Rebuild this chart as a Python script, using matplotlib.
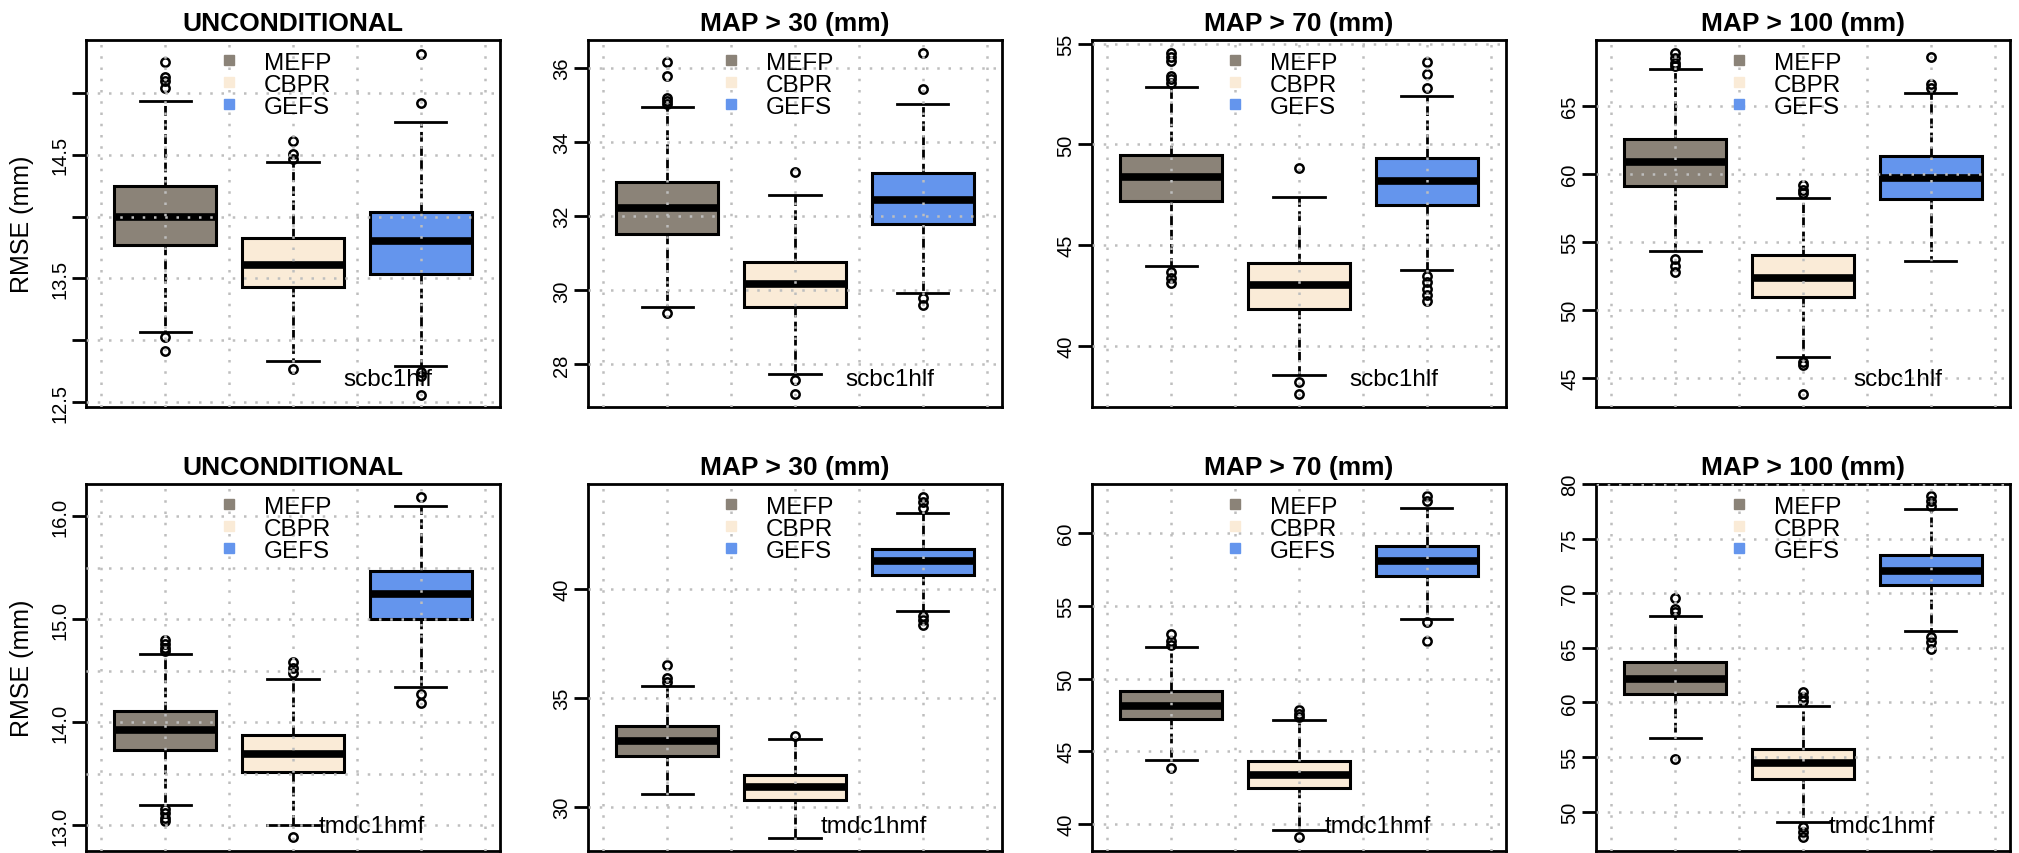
import numpy as np
import matplotlib
matplotlib.use("Agg")
import matplotlib.pyplot as plt
from matplotlib.lines import Line2D

plt.rcParams['font.family'] = ['Liberation Sans', 'DejaVu Sans']

# --- dados (RMSE em mm) ---
produtos = ['MEFP', 'CBPR', 'GEFS']
cores = ['#8B8378', '#FAEBD7', '#6495ED']
titulos = ['UNCONDITIONAL', 'MAP > 30 (mm)', 'MAP > 70 (mm)', 'MAP > 100 (mm)']
estacoes = ['scbc1hlf', 'tmdc1hmf']

# linha de cima: scbc1hlf  (cada painel: MEFP, CBPR, GEFS)
q1_scbc = [[13.77, 13.43, 13.54], [31.51, 29.56, 31.79], [47.18, 41.85, 47.01], [59.08, 50.92, 58.15]]
med_scbc = [[14.00, 13.61, 13.80], [32.23, 30.17, 32.43], [48.37, 43.04, 48.17], [60.84, 52.32, 59.69]]
q3_scbc = [[14.25, 13.83, 14.04], [32.93, 30.76, 33.16], [49.49, 44.13, 49.31], [62.58, 54.03, 61.28]]
lo_scbc = [[13.07, 12.83, 12.79], [29.55, 27.73, 29.93], [43.99, 38.58, 43.75], [54.30, 46.52, 53.57]]
hi_scbc = [[14.94, 14.44, 14.77], [34.94, 32.58, 35.03], [52.87, 47.38, 52.41], [67.69, 58.24, 65.93]]
out_scbc = [
    [[15.25, 15.13, 15.10, 15.04, 13.03, 12.91], [14.61, 14.51, 14.47, 12.77], [15.32, 14.92, 12.74, 12.71, 12.56]],
    [[36.17, 35.79, 35.19, 35.12, 35.03, 29.39], [33.20, 27.59, 27.21], [36.40, 35.43, 29.80, 29.61]],
    [[54.55, 54.36, 54.14, 53.40, 53.23, 53.04, 43.66, 43.37, 43.14], [48.83, 38.22, 37.64],
     [54.09, 53.48, 52.82, 43.50, 43.17, 42.84, 42.54, 42.26]],
    [[68.92, 68.55, 68.13, 67.94, 53.74, 53.25, 52.81], [59.17, 58.83, 58.59, 46.15, 45.91, 43.83], [68.62, 66.59, 66.35]],
]

# linha de baixo: tmdc1hmf
q1_tmdc = [[13.73, 13.52, 15.00], [32.34, 30.28, 40.66], [47.22, 42.45, 57.09], [60.76, 53.00, 70.73]]
med_tmdc = [[13.92, 13.69, 15.24], [33.03, 30.92, 41.29], [48.14, 43.39, 58.12], [62.17, 54.43, 72.02]]
q3_tmdc = [[14.11, 13.88, 15.47], [33.69, 31.47, 41.84], [49.17, 44.31, 59.11], [63.70, 55.75, 73.49]]
lo_tmdc = [[13.20, 13.00, 14.34], [30.57, 28.56, 39.00], [44.40, 39.61, 54.11], [56.73, 49.02, 66.51]]
hi_tmdc = [[14.66, 14.42, 16.10], [35.56, 33.11, 43.48], [52.16, 47.16, 61.72], [67.92, 59.63, 77.71]]
out_tmdc = [
    [[14.80, 14.76, 14.72, 14.69, 13.16, 13.12, 13.07, 13.04], [14.58, 14.53, 14.48, 12.89], [16.18, 14.27, 14.19]],
    [[36.51, 35.90, 35.71], [33.26], [44.24, 43.98, 43.71, 38.77, 38.55, 38.36]],
    [[53.07, 52.61, 52.32, 43.83], [47.87, 47.57, 47.34, 39.08], [62.55, 62.25, 53.88, 52.61]],
    [[69.60, 68.59, 68.29, 54.83], [60.95, 60.49, 60.09, 48.56, 48.10, 47.65], [78.93, 78.44, 78.01, 65.99, 65.54, 64.92]],
]

# eixos y (limites, ticks, rótulos, grade)
ylims = [[(12.46, 15.43), (26.85, 36.76), (36.98, 55.18), (42.85, 69.85)],
         [(12.75, 16.31), (27.96, 44.82), (38.14, 63.39), (46.39, 80.0)]]
yticks = [[[12.5, 13.0, 13.5, 14.0, 14.5, 15.0], [28, 30, 32, 34, 36], [40, 45, 50, 55], [45, 50, 55, 60, 65]],
          [[13.0, 14.0, 15.0, 16.0], [30, 35, 40], [40, 45, 50, 55, 60], [50, 55, 60, 65, 70, 75, 80]]]
ylabels = [[['12.5', '', '13.5', '', '14.5', ''], None, None, None],
           [['13.0', '14.0', '15.0', '16.0'], None, None, None]]
ygrid_extra = [[[], [], [], []],
               [[13.5, 14.5, 15.5], [], [], []]]

linhas = [
    (q1_scbc, med_scbc, q3_scbc, lo_scbc, hi_scbc, out_scbc),
    (q1_tmdc, med_tmdc, q3_tmdc, lo_tmdc, hi_tmdc, out_tmdc),
]

W, H = 2019, 854
fig = plt.figure(figsize=(W / 100, H / 100), dpi=100)

lefts = [86, 588, 1092, 1596]
tops = [41, 485]
aw, ah = 414, 367

grid_kw = dict(color='#BEBEBE', linestyle=(0, (1, 3.5)), linewidth=1.8)

for r in range(2):
    q1s, meds, q3s, los, his, outs = linhas[r]
    for c in range(4):
        ax = fig.add_axes([lefts[c] / W, 1 - (tops[r] + ah) / H, aw / W, ah / H])

        stats = []
        for k in range(3):
            stats.append(dict(q1=q1s[c][k], med=meds[c][k], q3=q3s[c][k],
                              whislo=los[c][k], whishi=his[c][k],
                              fliers=outs[c][k], label=produtos[k]))
        bp = ax.bxp(stats, positions=[1, 2, 3], widths=0.8, capwidths=0.4,
                    patch_artist=True, showfliers=True,
                    boxprops=dict(edgecolor='black', linewidth=2.2),
                    medianprops=dict(color='black', linewidth=5.5, solid_capstyle='butt'),
                    whiskerprops=dict(color='black', linewidth=2.0, linestyle=(0, (3.5, 1.6))),
                    capprops=dict(color='black', linewidth=2.0),
                    flierprops=dict(marker='o', markerfacecolor='none', markeredgecolor='black',
                                    markersize=6, markeredgewidth=1.8))
        for patch, cor in zip(bp['boxes'], cores):
            patch.set_facecolor(cor)

        ax.set_xlim(0.38, 3.62)
        ax.set_ylim(*ylims[r][c])

        # grade pontilhada (desenhada por cima, como no R)
        ax.set_axisbelow(False)
        ax.set_xticks(np.arange(0.5, 3.51, 0.5))
        ax.tick_params(axis='x', length=0, labelbottom=False)
        ax.set_yticks(yticks[r][c])
        if ylabels[r][c] is not None:
            ax.set_yticklabels(ylabels[r][c])
        ax.set_yticks(ygrid_extra[r][c], minor=True)
        ax.tick_params(axis='y', which='minor', length=0)
        ax.grid(True, which='both', **grid_kw)
        ax.tick_params(axis='y', which='major', length=10, width=2, labelsize=14.5,
                       labelrotation=90, pad=2)
        for lab in ax.get_yticklabels():
            lab.set_va('center')

        for s in ax.spines.values():
            s.set_linewidth(2.0)

        ax.set_title(titulos[c], fontsize=19, fontweight='bold', pad=7)
        if c == 0:
            ax.set_ylabel('RMSE (mm)', fontsize=18)
            ax.yaxis.set_label_coords(-0.126, 0.5)

        handles = [Line2D([], [], linestyle='none', marker='s', markersize=7,
                          markerfacecolor=cor, markeredgecolor=cor) for cor in cores]
        leg = ax.legend(handles, produtos, loc='upper left', bbox_to_anchor=(0.315, 0.968),
                        frameon=False, fontsize=17.5, handlelength=1.0, handletextpad=0.95,
                        labelspacing=0.0, borderpad=0, borderaxespad=0)

        ty = 0.076 if r == 0 else 0.068
        tx = 0.73 if r == 0 else 0.69
        ax.text(tx, ty, estacoes[r], transform=ax.transAxes, ha='center', va='center',
                fontsize=17.5, zorder=5)

plt.savefig('out.png', dpi=100)
